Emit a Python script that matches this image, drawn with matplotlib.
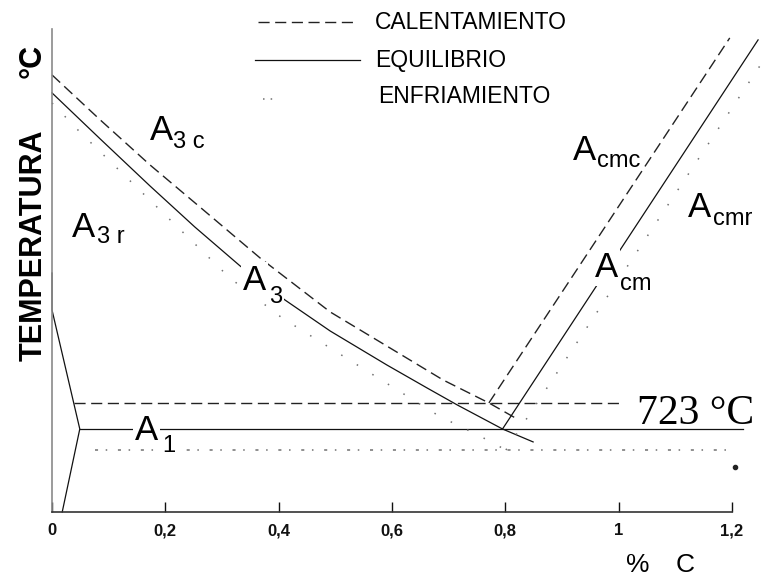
import matplotlib
matplotlib.use('Agg')
import matplotlib.pyplot as plt

# ---------------- data (% C, temperature °C) ----------------
a3_eq_c = [0.0, 0.085, 0.173, 0.252, 0.332, 0.411, 0.491, 0.591, 0.662, 0.715, 0.795, 0.849]
a3_eq_t = [910.0, 884.4, 858.2, 835.4, 813.7, 794.8, 777.5, 758.6, 745.8, 736.4, 723.0, 715.8]
a3_heat_c = [0.0, 0.085, 0.173, 0.261, 0.367, 0.491, 0.579, 0.690, 0.771, 0.824]
a3_heat_t = [920.0, 895.0, 869.9, 846.5, 818.2, 788.1, 771.4, 750.3, 737.5, 728.0]
a3_cool_c = [0.0, 0.049, 0.314, 0.406, 0.683, 0.755, 0.801]
a3_cool_t = [904.4, 888.3, 807.0, 784.8, 730.2, 719.1, 711.3]
acm_eq_c = [0.795, 1.246]
acm_eq_t = [723.0, 939.5]
acm_heat_c = [0.771, 1.196]
acm_heat_t = [737.5, 940.6]
acm_cool_c = [0.801, 1.256]
acm_cool_t = [711.3, 928.3]
a1_heat_c = [0.039, 1.009]
a1_heat_t = [737.5, 737.5]
a1_eq_c = [0.049, 1.219]
a1_eq_t = [723.0, 723.0]
a1_cool_c = [0.076, 1.2]
a1_cool_t = [711.3, 711.3]
ferrite_c = [0.0, 0.0, 0.049, 0.018]
ferrite_t = [809.8, 789.2, 723.0, 676.8]
stray_c = [1.205]
stray_t = [701.9]
x_ticks = [0, 0.2, 0.4, 0.6, 0.8, 1.0, 1.2]
x_tick_labels = ['0', '0,2', '0,4', '0,6', '0,8', '1', '1,2']
legend_labels = ['CALENTAMIENTO', 'EQUILIBRIO', 'ENFRIAMIENTO']
t_bottom, t_top = 676.8, 945.6

SANS = 'Liberation Sans'
SERIF = 'Liberation Serif'
W, H = 771, 576

fig = plt.figure(figsize=(W / 100, H / 100), dpi=100)
ax = fig.add_axes([0, 0, 1, 1])
ax.set_xlim(-0.0918, 1.2688)
ax.set_ylim(641.2, 961.7)
ax.set_facecolor('white')

def fx(px):
    return px / W

def fy(py):
    return 1 - py / H

dash_kw = dict(color='#222222', lw=1.0, linestyle=(0, (8, 4)))
solid_kw = dict(color='#111111', lw=0.9, linestyle='-')
dot_kw = dict(color='#707070', lw=1.1, linestyle=(0, (1, 11)))
dot_h_kw = dict(color='#707070', lw=1.1, linestyle=(0, (2, 5, 1, 7)))

# curves
ax.plot(a3_heat_c, a3_heat_t, **dash_kw)
ax.plot(acm_heat_c, acm_heat_t, **dash_kw)
ax.plot(a1_heat_c, a1_heat_t, **dash_kw)
ax.plot(a3_eq_c, a3_eq_t, **solid_kw)
ax.plot(acm_eq_c, acm_eq_t, **solid_kw)
ax.plot(a1_eq_c, a1_eq_t, **solid_kw)
ax.plot(ferrite_c, ferrite_t, **solid_kw)
ax.plot(a3_cool_c, a3_cool_t, **dot_kw)
ax.plot(acm_cool_c, acm_cool_t, **dot_kw)
ax.plot(a1_cool_c, a1_cool_t, **dot_h_kw)
ax.plot(stray_c, stray_t, 'o', color='#222222', ms=3)

# spines / ticks
for s in ('top', 'right'):
    ax.spines[s].set_visible(False)
ax.spines['left'].set_position(('data', 0))
ax.spines['left'].set_bounds(t_bottom, t_top)
ax.spines['left'].set_color('#8a8a8a')
ax.spines['left'].set_linewidth(1.2)
ax.spines['bottom'].set_position(('data', t_bottom))
ax.spines['bottom'].set_bounds(0, 1.2)
ax.spines['bottom'].set_color('#333333')
ax.spines['bottom'].set_linewidth(1.2)
ax.set_yticks([])
ax.set_xticks(x_ticks, x_tick_labels)
ax.tick_params(axis='x', direction='in', length=7, width=1, pad=8,
               labelsize=12, colors='#111111')
for lbl in ax.get_xticklabels():
    lbl.set_fontweight('bold')
    lbl.set_family(SANS)

# axis titles
fig.text(fx(42), fy(245), 'TEMPERATURA', rotation=90, rotation_mode='anchor',
         ha='center', va='baseline', fontsize=22, fontweight='bold', family=SANS)
fig.text(fx(41), fy(61), '°C', rotation=90, rotation_mode='anchor',
         ha='center', va='baseline', fontsize=22, fontweight='bold', family=SANS)
fig.text(fx(626), fy(572), '%', ha='left', va='baseline', fontsize=19, family=SANS)
fig.text(fx(676), fy(572), 'C', ha='left', va='baseline', fontsize=19, family=SANS)

# 723 °C
fig.text(fx(637), fy(424), '723 °C', ha='left', va='baseline', fontsize=30, family=SERIF)

# legend
leg_y = [22, 60, 99]
leg_text_y = [29, 67, 103]
leg_x = [(258, 357), (255, 360), (263, 312)]
leg_styles = [dash_kw, solid_kw, dict(color='#707070', lw=1.1, linestyle=(0, (1, 4, 1, 30)))]
leg_text_x = [375, 375, 378]
for (x0, x1), yy, ty, tx, st, lab in zip(leg_x, leg_y, leg_text_y, leg_text_x,
                                         leg_styles, legend_labels):
    ax.plot([fx(x0), fx(x1)], [fy(yy), fy(yy)], transform=ax.transAxes,
            clip_on=False, **st)
    fig.text(fx(tx), fy(ty), lab, ha='left', va='baseline', fontsize=16.5, family=SANS)

# curve labels: (main, sub, main left px, main baseline px, sub left px, sub baseline px, mask)
labels = [
    ('A', '3 c', 150, 140, 173, 148, False),
    ('A', '3 r', 72, 237, 97, 243, False),
    ('A', '3', 243, 290, 269, 303, True),
    ('A', '1', 135, 440, 162, 452, True),
    ('A', 'cmc', 573, 160, 597, 167, False),
    ('A', 'cmr', 688, 217, 713, 225, False),
    ('A', 'cm', 595, 277, 620, 290, True),
]
for main, sub, mx, my, sx, sy, mask in labels:
    box = dict(facecolor='white', edgecolor='none', pad=1.5) if mask else None
    fig.text(fx(mx), fy(my), main, ha='left', va='baseline', fontsize=25,
             family=SANS, bbox=box, zorder=5)
    fig.text(fx(sx), fy(sy), sub, ha='left', va='baseline', fontsize=17,
             family=SANS, bbox=box, zorder=5)

fig.savefig('out.png', dpi=100, facecolor='white')
